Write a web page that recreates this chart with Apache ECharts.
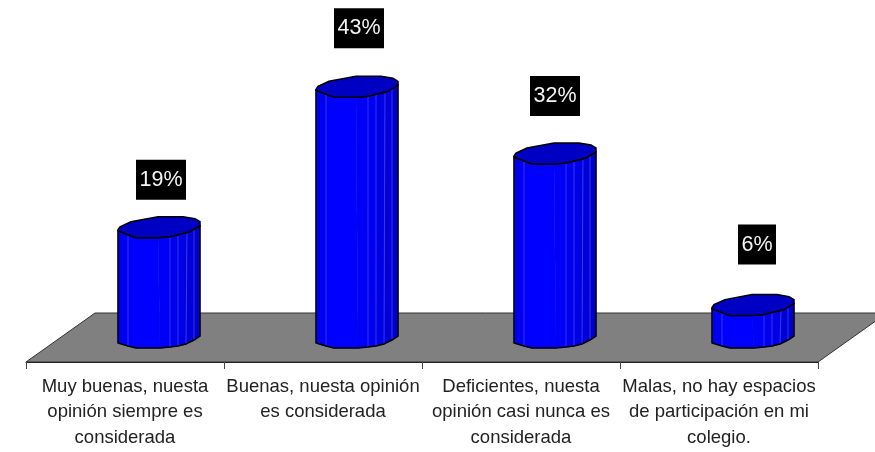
<!DOCTYPE html>
<html>
<head>
<meta charset="utf-8">
<style>html,body{margin:0;padding:0;background:#fff}#c{width:875px;height:452px}</style>
<script src="https://cdn.jsdelivr.net/npm/echarts@6/dist/echarts.min.js"></script>
</head>
<body>
<div id="c"></div>
<script>
const categories = [
  "Muy buenas, nuesta\nopinión siempre es\nconsiderada",
  "Buenas, nuesta opinión\nes considerada",
  "Deficientes, nuesta\nopinión casi nunca es\nconsiderada",
  "Malas, no hay espacios\nde participación en mi\ncolegio."
];
const values = [19.2, 43, 31.7, 6];

// Presentation of the pseudo-3D column, in pixels relative to its left edge
const baseLift = 19, leftShift = -7;
const labelLift = [50, 61, 60, 63];
const labelShift = [43, 43, 41, 45];
const topRing = [[0,0],[2,-3],[13,-8],[40,-13],[65,-13],[77,-11],[82,-8],[82,-4],[72,2],[52,7],[40,8],[18,8],[0,1]];
const frontTop = [[0,1],[10,5],[18,8],[40,8],[52,7],[60,5],[69,3],[76,-1],[82,-4]];
const frontBottom = [[0,0],[10,3],[18,5],[42,5],[52,4],[60,3],[68,1],[76,-3],[82,-7]];
const facetColors = ["#0000f0","#0000ff","#0000ff","#0000f8","#0000ee","#0000e4","#0000d8","#0000cc"];
const seamIndex = [1, 4, 5, 6, 7];

function shift(pts, x, y){ return pts.map(p => [p[0]+x, p[1]+y]); }

function renderFloor(params, api){
  const cs = params.coordSys;
  const bottom = cs.y + cs.height, left = cs.x, right = cs.x + cs.width;
  return {
    type:'polygon', z2:1,
    shape:{points:[[left,bottom],[right,bottom],[right+69,bottom-49],[left+69,bottom-49]]},
    style:{fill:'#808080',stroke:'#333',lineWidth:1}
  };
}

function renderColumn(params, api){
  const i = api.value(0), v = api.value(1);
  const base = api.coord([i,0]), head = api.coord([i,v]);
  const x = base[0] + leftShift, yB = base[1] - baseLift, yT = head[1] - baseLift;
  const ft = shift(frontTop,x,yT), fb = shift(frontBottom,x,yB);
  const children = [];
  for(let k=0;k<ft.length-1;k++){
    children.push({
      type:'polygon',
      shape:{points:[ft[k],ft[k+1],fb[k+1],fb[k]]},
      style:{fill:facetColors[k],stroke:facetColors[k],lineWidth:0.5}
    });
  }
  seamIndex.forEach(k => children.push({
    type:'line',
    shape:{x1:ft[k][0],y1:ft[k][1],x2:fb[k][0],y2:fb[k][1]},
    style:{stroke:'#4a4aff',lineWidth:0.7}
  }));
  children.push({
    type:'polygon',
    shape:{points:ft.concat(fb.slice().reverse())},
    style:{fill:'none',stroke:'#000',lineWidth:1.5}
  });
  children.push({
    type:'polygon',
    shape:{points:shift(topRing,x,yT)},
    style:{fill:'#0000c4',stroke:'#000',lineWidth:1.5}
  });
  const text = Math.round(values[i]) + '%';
  const boxW = 14 + 12 * text.length;
  const cy = yT - labelLift[i], cx = x + labelShift[i];
  children.push({type:'rect',shape:{x:cx-boxW/2,y:cy-20,width:boxW,height:40},style:{fill:'#000'}});
  children.push({type:'text',style:{
    text:text,x:cx,y:cy,align:'center',verticalAlign:'middle',
    fill:'#f4f4f4',font:'21.5px "Liberation Sans", Arial, sans-serif'
  }});
  return {type:'group',children};
}

const chart = echarts.init(document.getElementById('c'));
chart.setOption({
  animation:false,
  backgroundColor:'#fff',
  grid:{left:26,right:57,top:8,bottom:90},
  xAxis:{
    type:'category',data:categories,z:5,
    axisLine:{lineStyle:{color:'#222',width:1}},
    axisTick:{show:true,alignWithLabel:false,length:7,lineStyle:{color:'#444'}},
    axisLabel:{color:'#222',fontFamily:'"Liberation Sans", Arial, sans-serif',fontSize:18.5,lineHeight:25.5,margin:12,interval:0}
  },
  yAxis:{type:'value',min:0,max:60,show:false},
  series:[
    {type:'custom',clip:false,z:1,renderItem:renderFloor,data:[[0,0]],silent:true},
    {type:'custom',clip:false,z:2,renderItem:renderColumn,data:values.map((v,i)=>[i,v]),encode:{x:0,y:1}}
  ]
});
</script>
</body>
</html>
